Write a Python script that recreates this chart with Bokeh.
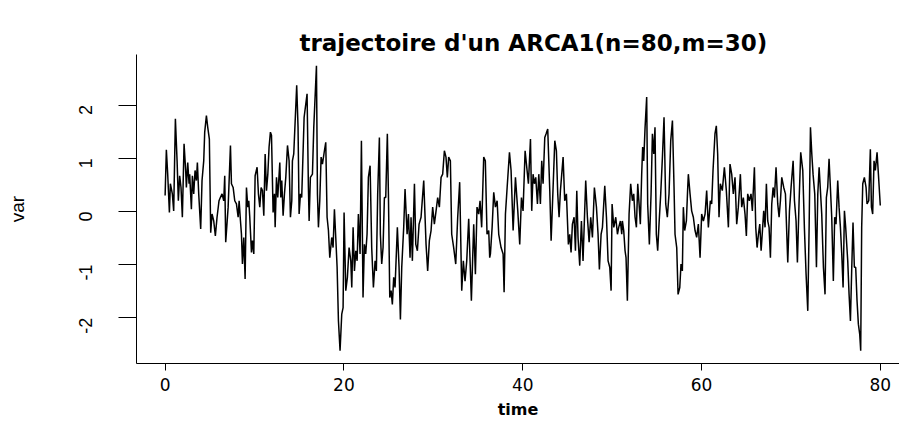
from bokeh.plotting import figure
from bokeh.models import Range1d, FixedTicker
from bokeh.embed import file_html
from bokeh.resources import INLINE
import math

# Simulated ARCA1 trajectory (n=80, m=30): time stamps and values
time = [
    0.00, 0.14, 0.29, 0.48, 0.59, 0.81, 0.96, 1.15, 1.34, 1.48, 1.63, 1.78, 1.93, 2.12, 2.30, 2.38, 2.53, 2.68, 2.75, 2.94, 3.05, 3.20,
    3.35, 3.50, 3.61, 3.76, 3.98, 4.13, 4.32, 4.43, 4.62, 4.77, 4.95, 5.10, 5.25, 5.44, 5.62, 5.81, 6.03, 6.18, 6.37, 6.56, 6.67, 6.78,
    7.05, 7.31, 7.42, 7.61, 7.79, 7.98, 8.17, 8.28, 8.43, 8.54, 8.65, 8.80, 8.95, 9.10, 9.25, 9.36, 9.47, 9.66, 9.77, 9.92, 10.07, 10.29, 10.44, 10.59,
    10.74, 10.89, 11.04, 11.19, 11.34, 11.49, 11.63, 11.78, 11.90, 12.08, 12.23, 12.31, 12.46, 12.60, 12.83, 12.94, 13.05, 13.20, 13.35, 13.50, 13.69, 13.87, 14.02, 14.17,
    14.24, 14.39, 14.72, 14.87, 14.99, 15.14, 15.28, 15.55, 15.88, 16.03, 16.11, 16.25, 16.48, 16.63, 16.93, 17.04, 17.15, 17.30, 17.45, 17.60, 17.82, 17.97,
    18.12, 18.27, 18.42, 18.64, 18.79, 18.94, 19.09, 19.24, 19.39, 19.57, 19.76, 19.91, 20.02, 20.21, 20.39, 20.58, 20.77, 20.88, 21.03, 21.18, 21.33, 21.48, 21.62,
    21.81, 21.96, 22.14, 22.29, 22.44, 22.59, 22.74, 22.93, 23.11, 23.30, 23.49, 23.63, 23.78, 23.97, 24.08, 24.23, 24.38, 24.53, 24.68, 24.86, 24.98, 25.13,
    25.28, 25.42, 25.57, 25.72, 25.98, 26.17, 26.32, 26.47, 26.69, 26.84, 27.07, 27.22, 27.40, 27.51, 27.66, 27.89, 28.04, 28.22, 28.41, 28.63, 28.93,
    29.19, 29.37, 29.56, 29.75, 29.93, 30.12, 30.31, 30.49, 30.68, 30.87, 31.05, 31.24, 31.42, 31.57, 31.72, 31.91, 32.06, 32.28, 32.51,
    32.73, 32.95, 33.18, 33.36, 33.55, 33.74, 33.96, 34.26, 34.52, 34.71, 34.89, 35.08, 35.23, 35.41, 35.64, 35.82, 36.01, 36.20, 36.31,
    36.39, 36.58, 36.76, 36.95, 37.14, 37.32, 37.58, 37.81, 37.92, 38.07, 38.26, 38.52, 38.70, 38.93, 39.19, 39.45, 39.67, 39.86, 40.04, 40.27,
    40.49, 40.64, 40.87, 41.01, 41.16, 41.31, 41.46, 41.65, 41.80, 41.98, 42.13, 42.28, 42.47, 42.62, 42.80, 43.03, 43.18, 43.40, 43.59,
    43.77, 43.92, 44.07, 44.22, 44.52, 44.70, 44.89, 45.11, 45.26, 45.41, 45.56, 45.75, 45.90, 46.05, 46.19, 46.38, 46.57, 46.75, 47.05, 47.24,
    47.43, 47.61, 47.80, 48.02, 48.25, 48.43, 48.58, 48.77, 48.92, 49.18, 49.37, 49.55, 49.74, 49.89, 50.00, 50.19, 50.41, 50.60, 50.74, 50.93, 51.08,
    51.15, 51.30, 51.45, 51.56, 51.71, 51.90, 52.08, 52.27, 52.42, 52.57, 52.72, 52.87, 53.02, 53.16, 53.31, 53.42, 53.54, 53.69, 53.87, 53.98, 54.17, 54.36, 54.51,
    54.66, 54.80, 54.95, 55.10, 55.25, 55.44, 55.63, 55.81, 56.00, 56.18, 56.37, 56.56, 56.75, 56.93, 57.04, 57.23, 57.38, 57.57, 57.71, 57.86, 57.97, 58.12, 58.31, 58.46,
    58.53, 58.72, 58.90, 59.09, 59.28, 59.46, 59.65, 59.84, 60.02, 60.21, 60.40, 60.58, 60.77, 60.99, 61.14, 61.29, 61.51, 61.66, 61.81, 61.96,
    62.11, 62.33, 62.56, 62.78, 63.01, 63.19, 63.38, 63.56, 63.75, 63.94, 64.12, 64.35, 64.50, 64.68, 64.87, 65.02, 65.17, 65.35, 65.54, 65.69,
    65.92, 66.07, 66.22, 66.37, 66.52, 66.67, 66.82, 66.96, 67.11, 67.26, 67.41, 67.56, 67.71, 67.86, 68.01, 68.16, 68.34, 68.53, 68.68, 68.83, 68.98, 69.20,
    69.39, 69.65, 69.84, 70.02, 70.25, 70.40, 70.58, 70.73, 70.92, 71.10, 71.33, 71.51, 71.70, 71.89, 72.04, 72.19, 72.34, 72.48, 72.67, 72.86, 73.01, 73.16,
    73.45, 73.64, 73.82, 73.97, 74.12, 74.27, 74.42, 74.57, 74.75, 74.90, 75.05, 75.24, 75.39, 75.54, 75.69, 75.84, 75.99, 76.13, 76.36, 76.51, 76.66, 76.81,
    76.95, 77.10, 77.25, 77.40, 77.55, 77.70, 77.81, 77.92, 78.04, 78.22, 78.41, 78.52, 78.71, 78.89, 79.01, 79.15, 79.30, 79.45, 79.64, 79.79, 80.00,
]
var = [
    0.30, 1.16, 0.70, -0.02, 0.52, 0.33, 0.01, 1.74, 0.95, 0.20, 0.67, 0.45, -0.11, 1.27, 0.77, 0.45, 0.92, 0.52, 0.70, 0.04, 0.67, 0.33,
    0.77, 0.58, 0.92, 0.33, -0.33, 0.58, 0.95, 1.49, 1.80, 1.58, 1.36, -0.40, -0.05, -0.18, -0.46, -0.11, 0.20, 0.26, 0.33, 0.20, 0.67, -0.58,
    0.08, 1.24, 0.52, 0.45, 0.20, 0.14, -0.11, 0.20, -0.18, -0.43, -0.99, -0.49, -1.27, 0.45, 0.08, 0.20, -0.11, -0.77, -0.55, -0.80, 0.67, 0.83, 0.33, 0.08,
    0.45, 0.39, -0.08, 1.08, 0.39, 0.70, 1.21, 1.49, 1.43, -0.02, 0.33, -0.30, 0.64, 0.26, 0.92, 0.26, 0.58, -0.08, 0.33, 0.64, 1.24, 0.95, -0.11, 0.20,
    0.95, 1.08, 2.37, 1.58, -0.05, 0.33, 0.26, 1.77, 2.21, 0.45, -0.18, 0.64, 0.70, 1.58, 2.74, 0.33, -0.30, 0.20, 1.02, 0.89, 1.14, 1.30,
    -0.11, -0.36, -0.87, -0.49, -0.68, 0.04, -0.49, -1.05, -2.06, -2.62, -1.93, -1.81, -0.02, -1.49, -1.24, -0.68, -0.93, -1.43, -0.30, -1.12, -0.74, -0.93, -0.05,
    -0.80, 1.33, -1.62, -0.62, -0.80, -0.43, 0.64, 0.86, -0.68, -1.43, -0.93, -1.12, 0.33, 1.39, -0.43, -0.99, -0.68, 0.26, 0.26, 1.46, 0.33, -1.62,
    -1.49, -1.75, -1.24, -1.43, -0.30, -1.05, -2.03, -1.05, -0.30, 0.42, -0.43, -0.05, -0.87, -0.11, -0.93, 0.52, -0.62, -0.74, -0.24, -0.11, 0.58,
    -0.62, -1.12, -0.55, -0.36, 0.08, -0.24, 0.01, 0.26, 0.08, 0.64, 0.70, 1.14, 1.02, 0.64, 1.02, 0.95, -0.43, -0.68, -0.99,
    -0.11, 0.55, -1.49, -0.93, -1.31, -0.93, -0.14, -1.68, -0.24, -1.18, 0.08, -0.05, 0.20, -0.30, 1.02, 0.95, -0.43, -0.36, -0.87,
    -0.80, -0.30, 0.36, 0.08, 0.20, -0.43, -0.68, -0.80, -1.52, -0.05, 0.45, 1.11, 0.77, -0.36, 0.64, 0.01, -0.62, 0.26, 0.01, 1.14,
    0.77, 0.52, 1.36, 0.01, 0.70, 0.52, 0.64, 0.14, 0.70, 0.14, 0.95, 0.52, 1.39, 1.46, 1.55, 0.39, -0.55, 0.45, 1.33,
    1.14, 0.33, -0.11, 0.39, 1.02, 0.20, 0.33, -0.62, -0.43, -0.77, -0.24, -0.11, -0.74, 0.39, -0.49, -1.02, -0.18, -0.93, 0.58, -0.11,
    -0.58, -0.11, -0.49, 0.45, 0.08, -0.43, -1.09, -0.43, -0.30, 0.48, -0.11, -0.93, -1.05, -1.49, 0.14, -0.30, -0.11, -0.43, -0.30, -0.18, -0.43,
    -0.18, -0.36, -0.74, -0.87, -1.68, -0.05, 0.52, 0.20, 0.33, -0.11, -0.30, 0.52, 0.14, -0.24, 0.70, 1.21, 0.95, 1.58, 2.15, 0.14, -0.62, 0.33, 1.46,
    1.08, 1.58, -0.43, -0.74, -0.24, 0.33, 1.02, 1.77, 0.14, -0.11, 0.33, 1.33, 1.71, 0.45, -0.43, -0.68, -1.56, -1.43, -0.99, -1.12, 0.08, -0.36, -0.18, 0.45,
    0.70, 0.33, 0.01, -0.11, -0.36, -0.49, -0.24, -0.87, -0.05, -0.18, -0.05, 0.39, -0.30, 0.20, 0.14, 0.77, 1.46, 1.61, 1.08, -0.11,
    0.52, 0.39, 0.83, 0.39, -0.30, 0.89, 0.70, 0.33, 0.64, -0.24, 0.08, 0.70, 0.08, 0.26, -0.05, -0.46, 0.33, 0.20, 0.33, 0.01,
    0.83, -0.30, -0.68, -0.43, -0.24, -0.74, -0.36, 0.01, -0.30, 0.52, -0.18, -0.30, -0.87, 0.14, 0.45, 0.26, 0.83, 0.14, -0.11, 0.20, 0.64, 0.45,
    0.33, -0.96, 0.01, 0.45, 0.95, 0.20, -0.18, -0.96, 0.20, 1.11, 0.77, -0.30, -1.18, -1.87, -0.30, 1.58, 1.08, 0.70, 0.33, -1.05, 0.33, 0.83,
    -0.05, -1.05, -1.56, 0.26, 0.45, 0.99, 0.45, -0.11, -1.31, -0.11, -0.24, 0.58, 0.08, -0.30, -0.80, -1.43, 0.01, -0.30, -0.93, -1.56, -2.06, -1.05,
    -0.21, -1.05, -1.05, -1.68, -2.12, -2.31, -2.62, -0.30, 0.52, 0.64, 0.45, 0.14, 0.20, 1.17, 0.08, -0.05, 0.95, 0.77, 1.11, 0.70, 0.11,
]
assert len(time) == len(var), (len(time), len(var))

x_ticks = [0, 20, 40, 60, 80]
y_ticks = [-2, -1, 0, 1, 2]
title_text = "trajectoire d'un ARCA1(n=80,m=30)"

p = figure(
    width=899, height=427,
    output_backend="svg", toolbar_location=None,
    x_range=Range1d(-3.2, 82.15), y_range=Range1d(-2.86, 2.95),
    min_border_left=136, min_border_right=0,
    min_border_top=54, min_border_bottom=64,
)
p.background_fill_color = "white"
p.border_fill_color = "white"
p.outline_line_color = None
p.grid.visible = False

p.line(time, var, line_color="black", line_width=1.5)

# title above the plotting region
p.title.text = title_text
p.title.align = "left"
p.title.offset = 163
p.title.standoff = -3
p.title.text_font = "DejaVu Sans"
p.title.text_font_style = "bold"
p.title.text_font_size = "23px"
p.title.text_color = "black"

# axes in the style of base R graphics (L-shaped frame)
for ax in (p.xaxis[0], p.yaxis[0]):
    ax.axis_line_color = "black"
    ax.axis_line_width = 1
    ax.major_tick_line_color = "black"
    ax.major_tick_in = 0
    ax.minor_tick_line_color = None
    ax.major_label_text_color = "black"
    ax.axis_label_text_color = "black"
    ax.axis_label_text_font_style = "normal"

p.xaxis.ticker = FixedTicker(ticks=x_ticks)
p.xaxis.major_label_overrides = {t: str(t) for t in x_ticks}
p.xaxis.major_tick_out = 7
p.xaxis.major_label_standoff = 7
p.xaxis.major_label_text_font = "DejaVu Sans"
p.xaxis.major_label_text_font_size = "17px"
p.xaxis.axis_label = "time"
p.xaxis.axis_label_text_font = "DejaVu Sans"
p.xaxis.axis_label_text_font_style = "bold"
p.xaxis.axis_label_text_font_size = "16px"
p.xaxis.axis_label_standoff = 6

p.yaxis.ticker = FixedTicker(ticks=y_ticks)
p.yaxis.major_label_overrides = {t: str(t) for t in y_ticks}
p.yaxis.major_tick_out = 18
p.yaxis.major_label_standoff = 33
p.yaxis.major_label_orientation = math.pi / 2
p.yaxis.major_label_text_font = "Liberation Sans"
p.yaxis.major_label_text_font_size = "18px"
p.yaxis.axis_label = "var"
p.yaxis.axis_label_text_font = "Liberation Sans"
p.yaxis.axis_label_text_font_size = "19px"
p.yaxis.axis_label_standoff = 42

open("out.html", "w").write(file_html(p, INLINE))
